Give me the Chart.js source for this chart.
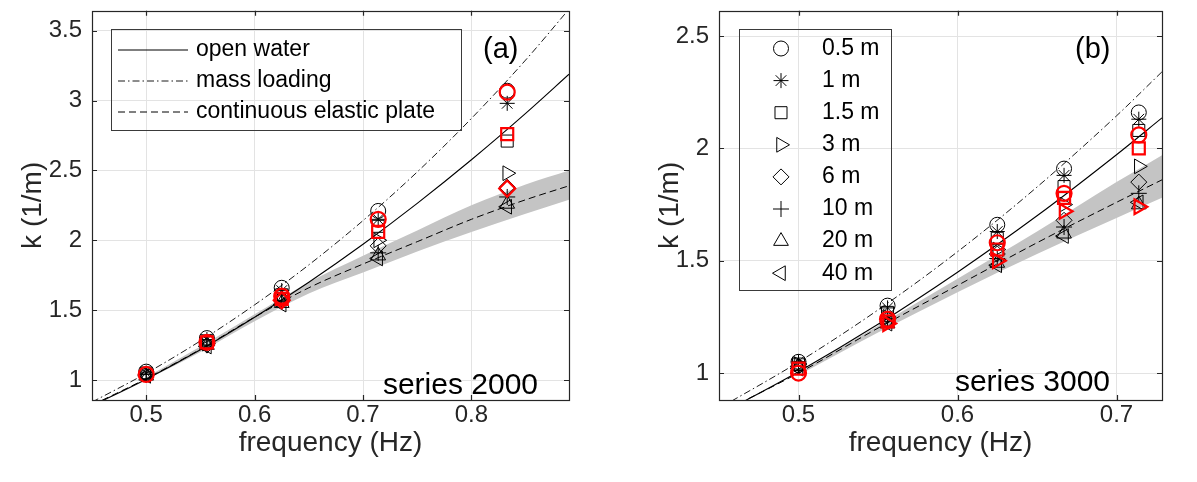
<!DOCTYPE html>
<html>
<head>
<meta charset="utf-8">
<script src="https://cdn.jsdelivr.net/npm/chart.js@4.4.0/dist/chart.umd.min.js"></script>
<style>
    body { margin: 0; background: #fff; }
    .panel { position: absolute; top: 0; height: 482px; }
    #pa { left: 0; width: 598px; }
    #pb { left: 598px; width: 599px; }
</style>
</head>
<body>
<div class="panel" id="pa"><canvas id="chartA"></canvas></div>
<div class="panel" id="pb"><canvas id="chartB"></canvas></div>
<script>
// ---- Daten: Panel (a), series 2000 ----
var freqA = [0.5, 0.556, 0.625, 0.714, 0.833];
var kA_05 = [1.06, 1.30, 1.66, 2.21, 3.07];
var kA_1 = [1.05, 1.29, 1.64, 2.15, 2.98];
var kA_15 = [1.05, 1.28, 1.61, 2.10, 2.71];
var kA_3 = [1.04, 1.26, 1.58, 2.00, 2.48];
var kA_6 = [1.04, 1.25, 1.57, 1.96, 2.38];
var kA_10 = [1.04, 1.25, 1.56, 1.91, 2.31];
var kA_20 = [1.03, 1.25, 1.55, 1.89, 2.26];
var kA_40 = [1.03, 1.24, 1.54, 1.87, 2.24];
var redCircleA = [1.04, 1.27, 1.60, 2.15, 3.06];
var redSquareA = [null, 1.27, 1.58, 2.06, 2.76];
var redDiamondA = [null, null, 1.57, null, 2.37];

var curveFreqA = [0.45, 0.5, 0.55, 0.6, 0.65, 0.7, 0.75, 0.8, 0.85, 0.89];
var openWaterA = [0.815, 1.006, 1.217, 1.449, 1.700, 1.972, 2.264, 2.576, 2.908, 3.188];
var massLoadA = [0.842, 1.048, 1.280, 1.538, 1.824, 2.141, 2.489, 2.872, 3.290, 3.654];
var plateA = [0.82, 1.01, 1.22, 1.45, 1.66, 1.83, 1.99, 2.15, 2.29, 2.39];
var bandFreqA = [0.5, 0.55, 0.6, 0.65, 0.7, 0.75, 0.8, 0.85, 0.89];
var bandHiA = [1.02, 1.24, 1.47, 1.70, 1.89, 2.07, 2.25, 2.40, 2.50];
var bandLoA = [1.00, 1.20, 1.42, 1.62, 1.77, 1.92, 2.06, 2.19, 2.29];

// ---- Daten: Panel (b), series 3000 ----
var freqB = [0.5, 0.556, 0.625, 0.667, 0.714];
var kB_05 = [1.05, 1.30, 1.66, 1.91, 2.16];
var kB_1 = [1.05, 1.29, 1.63, 1.88, 2.13];
var kB_15 = [1.04, 1.27, 1.60, 1.83, 2.08];
var kB_3 = [1.04, 1.25, 1.55, 1.75, 1.92];
var kB_6 = [1.03, 1.24, 1.53, 1.68, 1.85];
var kB_10 = [1.03, 1.23, 1.51, 1.65, 1.80];
var kB_20 = [1.03, 1.22, 1.49, 1.62, 1.75];
var kB_40 = [1.02, 1.22, 1.48, 1.61, 1.76];
var redCircleB = [1.00, 1.24, 1.58, 1.80, 2.06];
var redSquareB = [1.02, 1.23, 1.55, 1.78, 2.00];
var redTriB = [null, 1.22, 1.50, 1.72, 1.74];

var curveFreqB = [0.45, 0.5, 0.55, 0.6, 0.65, 0.7, 0.7286];
var openWaterB = [0.815, 1.006, 1.217, 1.449, 1.700, 1.972, 2.136];
var massLoadB = [0.843, 1.049, 1.281, 1.540, 1.828, 2.145, 2.341];
var plateB = [0.82, 1.00, 1.20, 1.39, 1.58, 1.76, 1.86];
var bandFreqB = [0.5, 0.55, 0.6, 0.65, 0.7, 0.7286];
var bandHiB = [1.00, 1.21, 1.42, 1.63, 1.85, 1.97];
var bandLoB = [0.99, 1.18, 1.36, 1.53, 1.69, 1.78];

var depthLabels = ['0.5 m', '1 m', '1.5 m', '3 m', '6 m', '10 m', '20 m', '40 m'];
var curveLabels = ['open water', 'mass loading', 'continuous elastic plate'];
var xTicksA = [0.5, 0.6, 0.7, 0.8];
var xTicksB = [0.5, 0.6, 0.7];
var yTicksA = [1, 1.5, 2, 2.5, 3, 3.5];
var yTicksB = [1, 1.5, 2, 2.5];

// ---- Stil ----
var FONT = "'Liberation Sans', Arial, Helvetica, sans-serif";
var axisColor = '#262626';
var gridColor = '#e3e3e3';
var red = '#ff0000';
var dashDot = [7, 3, 1.5, 3];
var dashed = [7, 4];
var markerStyles = [
    { pointStyle: 'circle', radius: 7.5 },
    { pointStyle: 'star', radius: 7.5 },
    { pointStyle: 'rect', radius: 8.5 },
    { pointStyle: 'triangle', radius: 8.5, rotation: 90 },
    { pointStyle: 'rectRot', radius: 8 },
    { pointStyle: 'cross', radius: 8 },
    { pointStyle: 'triangle', radius: 8.5 },
    { pointStyle: 'triangle', radius: 8.5, rotation: -90 }
];

Chart.defaults.font.family = FONT;
Chart.defaults.color = axisColor;

function pts(xs, ys) {
    var out = [];
    for (var i = 0; i < xs.length; i++) {
        if (ys[i] != null) out.push({ x: xs[i], y: ys[i] });
    }
    return out;
}

function markerSet(xs, ys, style, color, width) {
    return {
        data: pts(xs, ys),
        showLine: false,
        pointStyle: style.pointStyle,
        pointRotation: style.rotation || 0,
        pointRadius: style.radius,
        pointHoverRadius: style.radius,
        pointBorderColor: color,
        pointBackgroundColor: 'rgba(0,0,0,0)',
        pointBorderWidth: width
    };
}

function curveSet(xs, ys, dash, width) {
    return {
        data: pts(xs, ys),
        borderColor: '#000',
        borderWidth: width,
        borderDash: dash,
        pointRadius: 0,
        fill: false,
        cubicInterpolationMode: 'monotone'
    };
}

function bandSets(xs, hi, lo) {
    return [{
        data: pts(xs, hi),
        borderColor: 'rgba(0,0,0,0)',
        backgroundColor: '#c4c4c4',
        pointRadius: 0,
        fill: '+1',
        cubicInterpolationMode: 'monotone'
    }, {
        data: pts(xs, lo),
        borderColor: 'rgba(0,0,0,0)',
        pointRadius: 0,
        fill: false,
        cubicInterpolationMode: 'monotone'
    }];
}

// Rahmen, Ticks nach innen, Legende und Beschriftungen
var decoPlugin = {
    id: 'deco',
    afterDraw: function (chart, args, o) {
        var ctx = chart.ctx, a = chart.chartArea;
        var xs = chart.scales.x, ys = chart.scales.y;
        ctx.save();
        ctx.strokeStyle = axisColor;
        ctx.lineWidth = 1.2;
        ctx.setLineDash([]);
        ctx.strokeRect(Math.round(a.left) + 0.5, Math.round(a.top) + 0.5,
            Math.round(a.right - a.left), Math.round(a.bottom - a.top));
        ctx.beginPath();
        xs.ticks.forEach(function (t) {
            var px = Math.round(xs.getPixelForValue(t.value)) + 0.5;
            ctx.moveTo(px, a.bottom); ctx.lineTo(px, a.bottom - 5);
            ctx.moveTo(px, a.top); ctx.lineTo(px, a.top + 5);
        });
        ys.ticks.forEach(function (t) {
            var py = Math.round(ys.getPixelForValue(t.value)) + 0.5;
            ctx.moveTo(a.left, py); ctx.lineTo(a.left + 5, py);
            ctx.moveTo(a.right, py); ctx.lineTo(a.right - 5, py);
        });
        ctx.stroke();

        // Legende
        var L = o.legend;
        ctx.strokeStyle = '#3a3a3a';
        ctx.lineWidth = 1;
        ctx.strokeRect(L.x + 0.5, L.y + 0.5, L.w, L.h);
        ctx.font = '23px ' + FONT;
        ctx.fillStyle = '#000';
        ctx.textBaseline = 'middle';
        ctx.textAlign = 'left';
        L.items.forEach(function (it, i) {
            var y = L.rowY + i * L.rowStep;
            ctx.save();
            if (it.dash) {
                ctx.strokeStyle = '#000';
                ctx.lineWidth = it.width;
                ctx.setLineDash(it.dash);
                ctx.beginPath();
                ctx.moveTo(L.symX - 35, y);
                ctx.lineTo(L.symX + 35, y);
                ctx.stroke();
            } else {
                ctx.strokeStyle = '#000';
                ctx.fillStyle = 'rgba(0,0,0,0)';
                ctx.lineWidth = 1;
                Chart.helpers.drawPoint(ctx, {
                    pointStyle: it.style.pointStyle,
                    radius: it.style.radius,
                    rotation: it.style.rotation || 0,
                    borderWidth: 1
                }, L.symX, y);
            }
            ctx.restore();
            ctx.fillText(it.text, L.textX, y);
        });

        ctx.font = '29px ' + FONT;
        ctx.fillStyle = '#000';
        ctx.textAlign = 'left';
        ctx.fillText(o.tag.text, o.tag.x, o.tag.y);
        ctx.font = '30px ' + FONT;
        ctx.textAlign = 'right';
        ctx.fillText(o.series.text, o.series.x, o.series.y);
        ctx.restore();
    }
};

function buildPanel(id, p) {
    var datasets = [];
    p.red.forEach(function (r) {
        datasets.push(markerSet(p.freq, r.k, markerStyles[r.style], red, 2.2));
    });
    p.black.forEach(function (k, i) {
        datasets.push(markerSet(p.freq, k, markerStyles[i], '#000', 1));
    });
    datasets.push(curveSet(p.curveFreq, p.open, [], 1.1));
    datasets.push(curveSet(p.curveFreq, p.mass, dashDot, 0.9));
    datasets.push(curveSet(p.curveFreq, p.plate, dashed, 1));
    datasets = datasets.concat(bandSets(p.bandFreq, p.bandHi, p.bandLo));

    return new Chart(id, {
        type: 'line',
        data: { datasets: datasets },
        options: {
            responsive: true,
            maintainAspectRatio: false,
            animation: false,
            devicePixelRatio: 1,
            layout: { padding: { top: 10, right: p.padRight, left: 0, bottom: 0 } },
            plugins: {
                legend: { display: false },
                tooltip: { enabled: false },
                deco: p.deco
            },
            scales: {
                x: {
                    type: 'linear',
                    min: p.xMin,
                    max: p.xMax,
                    afterBuildTicks: function (s) {
                        s.ticks = p.xTicks.map(function (v) { return { value: v }; });
                    },
                    afterFit: function (s) {
                        s.height = 82;
                        s.paddingLeft = 0;
                        s.paddingRight = 0;
                    },
                    grid: { color: gridColor, drawTicks: false },
                    border: { display: false },
                    ticks: { padding: 1, font: { size: 24 }, color: axisColor, maxRotation: 0,
                        callback: function (v) { return String(v); } },
                    title: { display: true, text: 'frequency (Hz)', font: { size: 28 }, color: axisColor,
                        padding: { top: 0, bottom: 22 } }
                },
                y: {
                    type: 'linear',
                    min: p.yMin,
                    max: p.yMax,
                    afterBuildTicks: function (s) {
                        s.ticks = p.yTicks.map(function (v) { return { value: v }; });
                    },
                    afterFit: function (s) {
                        s.width = p.yWidth;
                        s.paddingTop = 0;
                        s.paddingBottom = 0;
                    },
                    grid: { color: gridColor, drawTicks: false },
                    border: { display: false },
                    ticks: { padding: 10, font: { size: 24 }, color: axisColor,
                        callback: function (v) { return String(v); } },
                    title: { display: true, text: 'k (1/m)', font: { size: 28 }, color: axisColor,
                        padding: { top: p.yTitlePad, bottom: 0 } }
                }
            }
        },
        plugins: [decoPlugin]
    });
}

var lineItems = [
    { text: curveLabels[0], dash: [], width: 1.1 },
    { text: curveLabels[1], dash: dashDot, width: 0.9 },
    { text: curveLabels[2], dash: dashed, width: 1 }
];
var markerItems = depthLabels.map(function (d, i) {
    return { text: d, style: markerStyles[i] };
});

buildPanel('chartA', {
    freq: freqA,
    black: [kA_05, kA_1, kA_15, kA_3, kA_6, kA_10, kA_20, kA_40],
    red: [{ k: redCircleA, style: 0 }, { k: redSquareA, style: 2 }, { k: redDiamondA, style: 4 }],
    curveFreq: curveFreqA, open: openWaterA, mass: massLoadA, plate: plateA,
    bandFreq: bandFreqA, bandHi: bandHiA, bandLo: bandLoA,
    xMin: 0.45, xMax: 0.89, yMin: 0.857, yMax: 3.643,
    xTicks: xTicksA, yTicks: yTicksA,
    padRight: 29, yWidth: 92, yTitlePad: 16,
    deco: {
        legend: { x: 111, y: 29, w: 350, h: 101, symX: 153, textX: 196, rowY: 50, rowStep: 31, items: lineItems },
        tag: { text: '(a)', x: 483, y: 50 },
        series: { text: 'series 2000', x: 538, y: 386 }
    }
});

buildPanel('chartB', {
    freq: freqB,
    black: [kB_05, kB_1, kB_15, kB_3, kB_6, kB_10, kB_20, kB_40],
    red: [{ k: redCircleB, style: 0 }, { k: redSquareB, style: 2 }, { k: redTriB, style: 3 }],
    curveFreq: curveFreqB, open: openWaterB, mass: massLoadB, plate: plateB,
    bandFreq: bandFreqB, bandHi: bandHiB, bandLo: bandLoB,
    xMin: 0.45, xMax: 0.7286, yMin: 0.88, yMax: 2.613,
    xTicks: xTicksB, yTicks: yTicksB,
    padRight: 35, yWidth: 121, yTitlePad: 55,
    deco: {
        legend: { x: 141, y: 29, w: 152, h: 261, symX: 183, textX: 224, rowY: 48.5, rowStep: 32.1, items: markerItems },
        tag: { text: '(b)', x: 477, y: 50 },
        series: { text: 'series 3000', x: 512, y: 383 }
    }
});
</script>
</body>
</html>
